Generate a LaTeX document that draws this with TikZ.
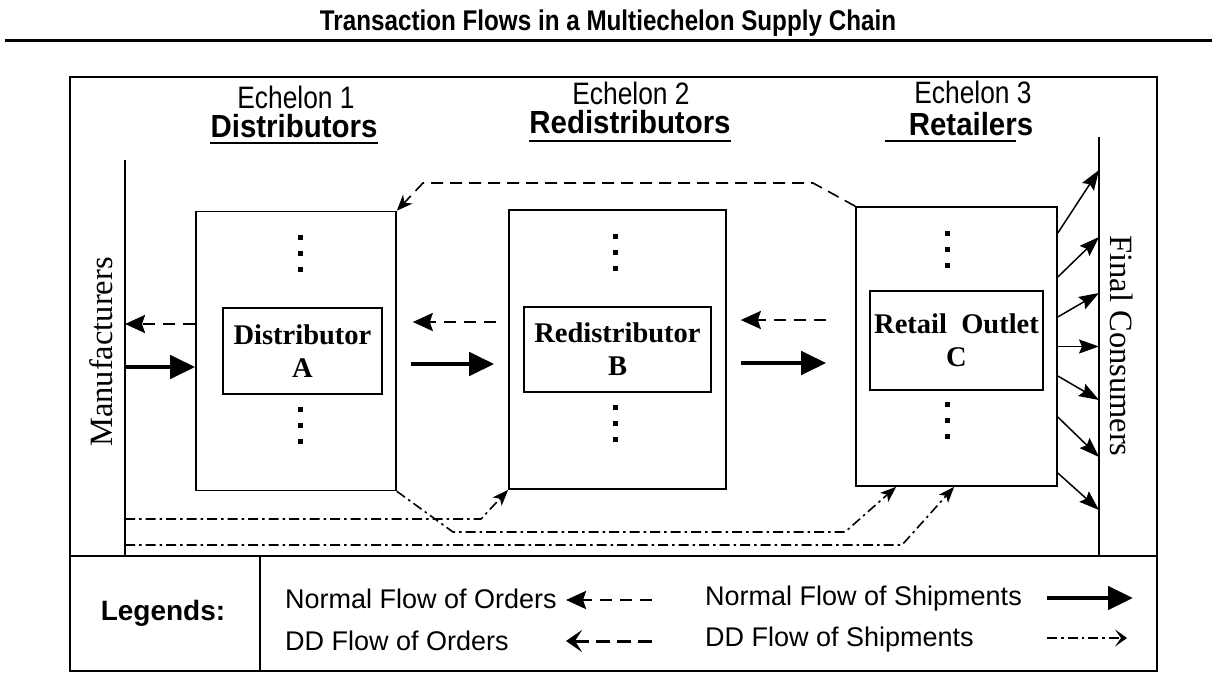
\documentclass[tikz,border=0pt]{standalone}
\usepackage{fontspec}
\setmainfont{Liberation Serif}
\newfontfamily\narrowsf[FakeStretch=0.85]{Liberation Sans}
\newfontfamily\headsf[FakeStretch=0.92]{Liberation Sans}
\newfontfamily\keysf{Liberation Sans}
\usepackage{tikz}
\usetikzlibrary{calc, arrows.meta}
\tikzstyle{unit}    = [rectangle, draw=black, line width=1.6pt, inner sep=0pt]
\tikzstyle{outlet}  = [rectangle, draw=black, line width=1.4pt, align=center, inner sep=0pt, font=\fontsize{28.5}{33}\selectfont\bfseries]
\tikzstyle{echelon} = [anchor=base, inner sep=0pt, font=\narrowsf\fontsize{31}{36}\selectfont]
\tikzstyle{tier}    = [anchor=base, inner sep=0pt, font=\headsf\bfseries\fontsize{32}{36}\selectfont]
\tikzstyle{side}    = [inner sep=0pt, font=\fontsize{32.5}{36}\selectfont]
\tikzstyle{key}     = [anchor=base west, inner sep=0pt, font=\keysf\fontsize{27}{30}\selectfont]
\tikzstyle{order}   = [line width=2.5pt, dash pattern=on 12pt off 8pt, -{Stealth[length=20pt,width=18pt,inset=3pt]}]
\tikzstyle{ship}    = [line width=4.5pt, -{Triangle[length=25pt,width=23pt]}]
\tikzstyle{ddorder} = [line width=1.6pt, dash pattern=on 12pt off 7pt, -{Stealth[length=16pt,width=13pt,inset=5pt]}]
\tikzstyle{ddship}  = [line width=1.6pt, dash pattern=on 10pt off 4pt on 2.5pt off 4pt, -{Stealth[length=16pt,width=12pt,inset=4pt]}]
\tikzstyle{sale}    = [line width=1.5pt, -{Stealth[length=20pt,width=14pt,inset=3pt]}]

\begin{document}
\begin{tikzpicture}[x=1pt, y=-1pt]
    \useasboundingbox (0,0) rectangle (1216,686);

    \node (title) [anchor=base, inner sep=0pt, font=\narrowsf\bfseries\fontsize{28.5}{32}\selectfont] at (608,30) {Transaction Flows in a Multiechelon Supply Chain};
    \draw [line width=3pt] (5,40) -- (1212,40);

    \draw [line width=2pt] (70,77) rectangle (1157,671);
    \draw [line width=2pt] (70,556) -- (1157,556);
    \draw [line width=2pt] (260,556) -- (260,671);

    \node (ech1)   [echelon] at (296,108) {Echelon 1};
    \node (dist)   [tier]    at (294,137) {Distributors};
    \node (ech2)   [echelon] at (631,104) {Echelon 2};
    \node (redist) [tier]    at (630,133) {Redistributors};
    \node (ech3)   [echelon] at (973,103) {Echelon 3};
    \node (retail) [tier]    at (971,135) {Retailers};
    \draw [line width=1.5pt] ($(dist.base west)+(0,6)$) -- ($(dist.base east)+(0,6)$);
    \draw [line width=1.5pt] ($(redist.base west)+(0,8)$) -- ($(redist.base east)+(0,8)$);
    \draw [line width=1.5pt] ($(retail.base west)+(-24,6)$) -- ($(retail.base east)+(-17,6)$);

    \coordinate (mtop) at (125,160);
    \coordinate (mbot) at (125,556);
    \coordinate (mf)   at (125,351);
    \coordinate (ftop) at (1099,137);
    \coordinate (fbot) at (1099,556);
    \coordinate (fc)   at (1099,346.5);
    \draw [line width=1.6pt] (mtop) -- (mbot);
    \draw [line width=1.6pt] (ftop) -- (fbot);
    \node (maker) [side, rotate=90]  at (101,352)  {Manufacturers};
    \node (buyer) [side, rotate=-90] at (1122,346) {Final Consumers};

    \node (A) [unit, minimum width=200pt, minimum height=279pt] at (296,351) {};
    \node (B) [unit, minimum width=217pt, minimum height=279pt] at (617.5,349.5) {};
    \node (C) [unit, minimum width=201pt, minimum height=279pt] at (956.5,346.5) {};
    \node (Ain) [outlet, minimum width=159pt, minimum height=86pt] at (302.5,351)   {Distributor\\A};
    \node (Bin) [outlet, minimum width=187pt, minimum height=85pt] at (617.5,349.5) {Redistributor\\B};
    \node (Cin) [outlet, minimum width=173pt, minimum height=99pt] at (956.5,340.5) {Retail\enspace Outlet\\C};

    \foreach \n/\dx in {A/4, B/-2, C/-9} {
        \foreach \dy in {27, 43, 59}
            \fill ($(\n.north)+(\dx,\dy)$) ++(-2.5,-2.5) rectangle ++(5,5);
        \foreach \dy in {50, 66, 82}
            \fill ($(\n.south)+(\dx,-\dy)$) ++(-2.5,-2.5) rectangle ++(5,5);
    }

    \draw [order] ($(A.west)+(0,-27)$) -- ($(mf)+(0,-27)$);
    \draw [ship]  ($(mf)+(0,16)$) -- ($(A.west)+(0,16)$);
    \draw [order] ($(B.west)+(-12,-27.5)$) -- ($(A.east)+(16,-29)$);
    \draw [ship]  ($(A.east)+(14,13)$) -- ($(B.west)+(-14,14.5)$);
    \draw [order] ($(C.west)+(-29,-26.5)$) -- ($(B.east)+(14,-29.5)$);
    \draw [ship]  ($(B.east)+(14,13.5)$) -- ($(C.west)+(-29,16.5)$);

    \foreach \s/\e in {-113.5/-176.5, -69.5/-109.5, -29.5/-53.5, 0/0, 29.5/53.5, 70.5/110.5, 126.5/163.5}
        \draw [sale] ($(C.east)+(0,\s)$) -- ($(fc)+(0,\e)$);

    \draw [ddorder] (C.north west) -- (813,183) -- (423,183) -- (A.north east);

    \coordinate (m1) at (125,519);
    \coordinate (m2) at (125,545);
    \draw [ddship] (m1) -- (481,519) -- (B.south west);
    \draw [ddship] (A.south east) -- (453,532) -- (845,532) -- ($(C.south west)+(41,0)$);
    \draw [ddship] (m2) -- (902,545) -- ($(C.south west)+(99,0)$);

    \node (legend) [font=\keysf\bfseries\fontsize{28}{32}\selectfont] at (163,613) {Legends:};
    \node (k1) [key] at (285,608) {Normal Flow of Orders};
    \node (k2) [key] at (285,650) {DD Flow of Orders};
    \node (k3) [key] at (705,605) {Normal Flow of Shipments};
    \node (k4) [key] at (705,646) {DD Flow of Shipments};
    \coordinate (k1a) at (652,600);
    \coordinate (k1b) at (566,600);
    \coordinate (k2a) at (652,641);
    \coordinate (k2b) at (566,641);
    \coordinate (k3a) at (1047,598);
    \coordinate (k3b) at (1133,598);
    \coordinate (k4a) at (1047,638);
    \coordinate (k4b) at (1127,638);
    \draw [order] (k1a) -- (k1b);
    \draw [line width=3pt, dash pattern=on 14pt off 7pt, -{Stealth[length=16pt,width=22pt,inset=7pt]}] (k2a) -- (k2b);
    \draw [ship] (k3a) -- (k3b);
    \draw [ddship, -{Stealth[length=12pt,width=17pt,inset=6pt]}] (k4a) -- (k4b);

\end{tikzpicture}
\end{document}
